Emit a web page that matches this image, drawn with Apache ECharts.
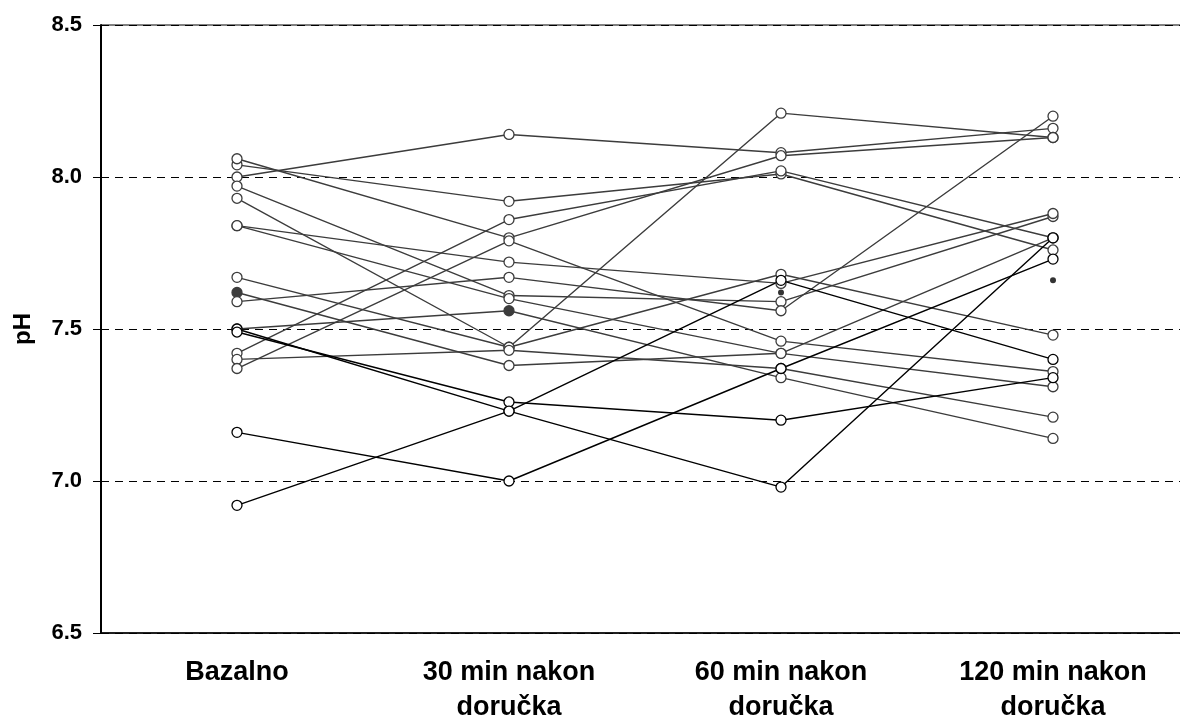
<!DOCTYPE html>
<html>
<head>
<meta charset="utf-8">
<script src="https://cdn.jsdelivr.net/npm/echarts@6/dist/echarts.min.js"></script>
<style>
  html, body { margin: 0; padding: 0; background: #fff; }
  #chart { width: 1180px; height: 722px; }
</style>
</head>
<body>
<div id="chart"></div>
<script>
// Measurement times
var categories = ['Bazalno', '30 min nakon\ndoručka', '60 min nakon\ndoručka', '120 min nakon\ndoručka'];

// Y axis ticks
var yMin = 6.5, yMax = 8.5, yStep = 0.5;

// pH per subject (grey lines)
var s01 = [8.00, 8.14, 8.08, 8.16];
var s02 = [8.04, 7.92, 8.01, 7.76];
var s03 = [8.06, 7.80, 8.07, 8.13];
var s04 = [7.97, 7.61, 7.59, 7.87];
var s05 = [7.93, 7.44, 8.21, 8.13];
var s06 = [7.84, 7.72, 7.65, 7.88];
var s07 = [7.84, 7.60, 7.42, 7.80];
var s08 = [7.67, 7.44, 7.68, 7.48];
var s09 = [7.62, 7.38, 7.42, 7.31];
var s10 = [7.59, 7.67, 7.56, 8.20];
var s11 = [7.42, 7.86, 8.02, 7.80];
var s12 = [7.40, 7.43, 7.37, 7.21];
var s13 = [7.37, 7.79, 7.46, 7.36];
var s14 = [7.50, 7.56, 7.34, 7.14];
// pH per subject (black lines)
var s15 = [7.50, 7.23, 6.98, 7.80];
var s16 = [7.49, 7.26, 7.20, 7.34];
var s17 = [7.16, 7.00, 7.37, 7.73];
var s18 = [6.92, 7.23, 7.66, 7.40];

// filled (dark) markers: [subject, time index]
var filledMarks = [['s09', 0], ['s14', 1]];
// small dots
var dotVals = [null, null, 7.62, 7.66];

var greySubjects = { s01: s01, s02: s02, s03: s03, s04: s04, s05: s05, s06: s06, s07: s07,
  s08: s08, s09: s09, s10: s10, s11: s11, s12: s12, s13: s13, s14: s14 };
var blackSubjects = { s15: s15, s16: s16, s17: s17, s18: s18 };

var FONT = 'Liberation Sans, Arial, sans-serif';
var GREY = '#3c3c3c';

function subjectSeries(name, data, color) {
  return {
    type: 'line',
    name: name,
    data: data.map(function (v, i) {
      var isFilled = filledMarks.some(function (f) { return f[0] === name && f[1] === i; });
      return isFilled
        ? { value: v, itemStyle: { color: color, borderColor: color }, z: 5 }
        : v;
    }),
    symbol: 'circle',
    symbolSize: 10,
    showAllSymbol: true,
    lineStyle: { color: color, width: 1.4 },
    itemStyle: { color: '#fff', borderColor: color, borderWidth: 1.3 },
    emphasis: { disabled: true },
    animation: false,
    z: 3
  };
}

var series = [];
Object.keys(greySubjects).forEach(function (k) { series.push(subjectSeries(k, greySubjects[k], GREY)); });
Object.keys(blackSubjects).forEach(function (k) { series.push(subjectSeries(k, blackSubjects[k], '#000')); });

series.push({
  type: 'scatter',
  data: dotVals.map(function (v, i) { return v == null ? null : [i, v]; }).filter(Boolean),
  symbolSize: 6,
  itemStyle: { color: '#000' },
  animation: false,
  z: 6
});

var chart = echarts.init(document.getElementById('chart'), null, { renderer: 'canvas' });
chart.setOption({
  backgroundColor: '#fff',
  animation: false,
  grid: {
    left: 101, top: 25, width: 1088, height: 608,
    outerBoundsMode: 'none',
    containLabel: false,
    show: true, borderColor: '#000', borderWidth: 1, backgroundColor: 'transparent'
  },
  xAxis: {
    type: 'category',
    data: categories,
    boundaryGap: true,
    axisLine: { lineStyle: { color: '#000', width: 1.5 } },
    axisTick: { show: false },
    axisLabel: {
      color: '#000', fontFamily: FONT, fontWeight: 'bold', fontSize: 27,
      lineHeight: 35, margin: 22, interval: 0
    },
    splitLine: { show: false }
  },
  yAxis: {
    type: 'value',
    min: yMin, max: yMax, interval: yStep,
    name: 'pH',
    nameLocation: 'middle',
    nameGap: 66,
    nameRotate: 90,
    nameTextStyle: { color: '#000', fontFamily: FONT, fontWeight: 'bold', fontSize: 24 },
    axisLine: { show: true, lineStyle: { color: '#000', width: 2 } },
    axisTick: { show: true, inside: false, length: 8, lineStyle: { color: '#000', width: 1 } },
    axisLabel: {
      color: '#000', fontFamily: FONT, fontWeight: 'bold', fontSize: 22, margin: 19,
      formatter: function (v) { return v.toFixed(1); }
    },
    splitLine: { show: true, lineStyle: { color: '#000', type: [8, 6], width: 1 } }
  },
  series: series
});
</script>
</body>
</html>
